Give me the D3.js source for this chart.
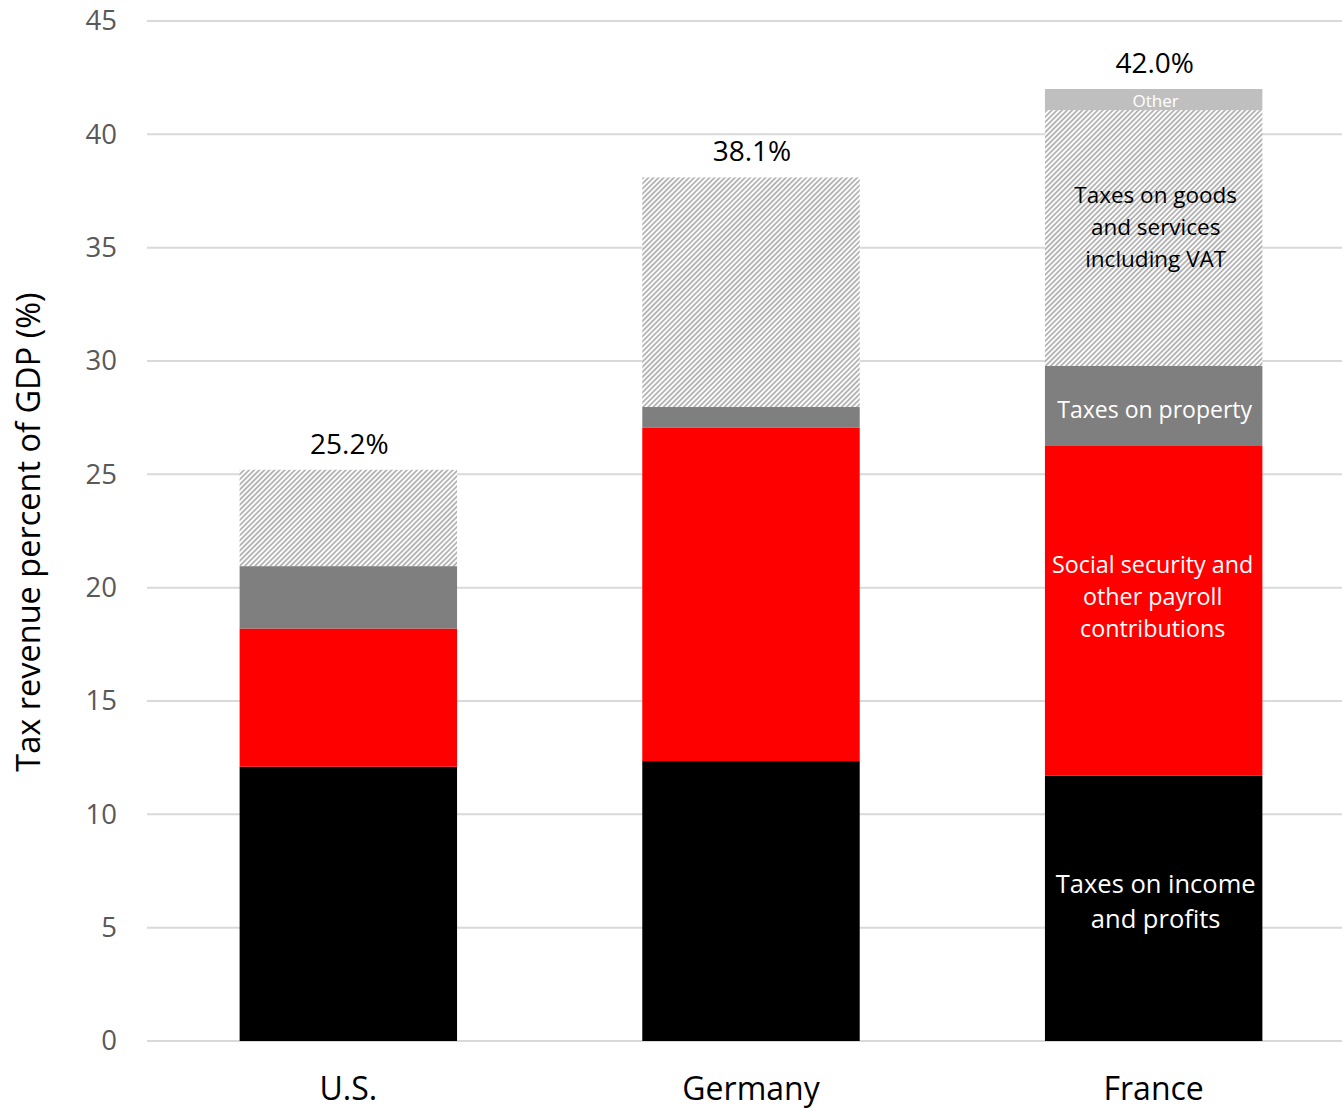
<!DOCTYPE html>
<html>
<head>
<meta charset="utf-8">
<script src="https://cdn.jsdelivr.net/npm/d3@7"></script>
<style>
  body { margin: 0; background: #fff; }
  text { font-family: "Open Sans", sans-serif; }
</style>
</head>
<body>
<div id="chart"></div>
<script>
// data
var countries = ["U.S.", "Germany", "France"];
var keys = ["income", "social", "property", "goods", "other"];
var income   = [12.1, 12.35, 11.7];
var social   = [6.1, 14.7, 14.55];
var property = [2.75, 0.92, 3.53];
var goods    = [4.25, 10.13, 11.29];
var other    = [0, 0, 0.93];
var totals   = ["25.2%", "38.1%", "42.0%"];
var yTicks   = [0, 5, 10, 15, 20, 25, 30, 35, 40, 45];

// labels only shown in the France bar
var segLabels = {
  income:   { lines: ["Taxes on income", "and profits"], color: "#fff", size: 25.5, gap: 35, dy: -7, dx: 2 },
  social:   { lines: ["Social security and", "other payroll", "contributions"], color: "#fff", size: 23.3, gap: 32, dy: -14, dx: -1 },
  property: { lines: ["Taxes on property"], color: "#fff", size: 23, gap: 32, dy: 4, dx: 1 },
  goods:    { lines: ["Taxes on goods", "and services", "including VAT"], color: "#000", size: 22.5, gap: 32, dy: -11, dx: 2 },
  other:    { lines: ["Other"], color: "#fff", size: 17, gap: 20, dy: 2, dx: 2 }
};

var color = d3.scaleOrdinal()
  .domain(keys)
  .range(["#000000", "#ff0000", "#7f7f7f", "url(#hatch)", "#bfbfbf"]);

var W = 1342, H = 1108;
var margin = {top: 21, right: -13, bottom: 67, left: 147},
    width = W - margin.left - margin.right,
    height = H - margin.top - margin.bottom;

var svg = d3.select("#chart").append("svg")
    .attr("width", W)
    .attr("height", H);

// hatch pattern for goods and services
var pat = svg.append("defs").append("pattern")
    .attr("id", "hatch")
    .attr("patternUnits", "userSpaceOnUse")
    .attr("width", 3.6)
    .attr("height", 3.6)
    .attr("patternTransform", "rotate(45)");
pat.append("rect").attr("width", 3.6).attr("height", 3.6).attr("fill", "#fff");
pat.append("line")
    .attr("x1", 0.9).attr("y1", 0).attr("x2", 0.9).attr("y2", 3.6)
    .attr("stroke", "#b4b4b4").attr("stroke-width", 1.9);

var g = svg.append("g")
    .attr("transform", "translate(" + margin.left + "," + margin.top + ")");

var x = d3.scaleBand()
  .domain(countries)
  .range([0, width])
  .paddingInner(0.46)
  .paddingOuter(0.23);

var y = d3.scaleLinear()
  .domain([0, 45])
  .range([height, 0]);

// gridlines
g.selectAll(".grid")
  .data(yTicks)
  .enter()
  .append("line")
    .attr("x1", 0)
    .attr("x2", W)
    .attr("y1", function(d) { return y(d); })
    .attr("y2", function(d) { return y(d); })
    .attr("stroke", "#d9d9d9")
    .attr("stroke-width", 2);

// y axis labels
var yAxis = g.append("g")
  .call(d3.axisLeft(y).tickValues(yTicks).tickSize(0).tickPadding(30));
yAxis.select(".domain").remove();
yAxis.selectAll("text")
  .attr("fill", "#595959")
  .style("font-size", "27.5px")
  .style("font-family", "'Open Sans', sans-serif");

// x axis labels
var xAxis = g.append("g")
  .attr("transform", "translate(0," + height + ")")
  .call(d3.axisBottom(x).tickSize(0).tickPadding(36));
xAxis.select(".domain").remove();
xAxis.selectAll("text")
  .attr("fill", "#000")
  .style("font-size", "32px")
  .style("font-family", "'Open Sans', sans-serif");

// stack
var data = countries.map(function(c, i) {
  return { country: c, income: income[i], social: social[i], property: property[i], goods: goods[i], other: other[i] };
});
var stackedData = d3.stack().keys(keys)(data);

g.selectAll(".layer")
  .data(stackedData)
  .enter()
  .append("g")
    .attr("fill", function(d) { return color(d.key); })
  .selectAll("rect")
  .data(function(d) { return d; })
  .enter()
  .append("rect")
    .attr("x", function(d) { return x(d.data.country); })
    .attr("width", x.bandwidth())
    .attr("y", function(d) { return y(d[1]); })
    .attr("height", function(d) { return y(d[0]) - y(d[1]); });

// totals above bars
g.selectAll(".total")
  .data(data)
  .enter()
  .append("text")
    .attr("x", function(d) { return x(d.country) + x.bandwidth() / 2 + 1; })
    .attr("y", function(d, i) { return y(d3.sum(keys, function(k) { return d[k]; })) - 16; })
    .attr("text-anchor", "middle")
    .style("font-size", "28px")
    .attr("fill", "#000")
    .text(function(d, i) { return totals[i]; });

// segment labels in the France bar
var fr = 2;
stackedData.forEach(function(layer) {
  var lab = segLabels[layer.key];
  var seg = layer[fr];
  var cy = y((seg[0] + seg[1]) / 2) + (lab.dy || 0);
  var n = lab.lines.length;
  var t = g.append("text")
    .attr("text-anchor", "middle")
    .attr("fill", lab.color)
    .style("font-size", lab.size + "px");
  lab.lines.forEach(function(line, j) {
    t.append("tspan")
      .attr("x", x(countries[fr]) + x.bandwidth() / 2 + lab.dx)
      .attr("y", cy + (j - (n - 1) / 2) * lab.gap)
      .attr("dy", "0.35em")
      .text(line);
  });
});

// y axis title
svg.append("text")
  .attr("transform", "translate(40," + (margin.top + height / 2 + 1) + ") rotate(-90)")
  .attr("text-anchor", "middle")
  .style("font-size", "32.5px")
  .attr("fill", "#000")
  .text("Tax revenue percent of GDP (%)");
</script>
</body>
</html>
